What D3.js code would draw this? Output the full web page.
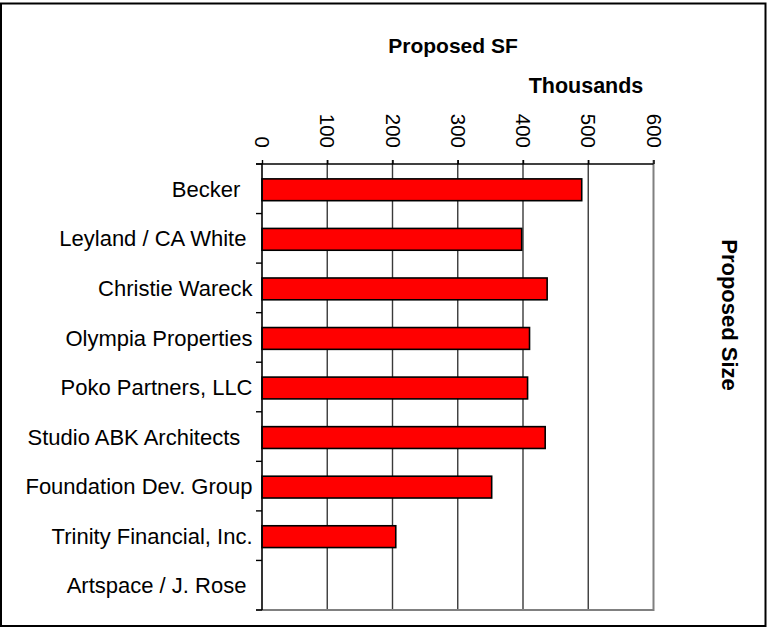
<!DOCTYPE html>
<html>
<head>
<meta charset="utf-8">
<script src="https://cdn.jsdelivr.net/npm/d3@7"></script>
<style>
  body { margin: 0; background: #fff; }
  text { font-family: "Liberation Sans", Arial, sans-serif; white-space: pre; }
</style>
</head>
<body>
<div id="chart"></div>
<script>
var width  = 767,
    height = 628;

// categories (trailing spaces as in the source labels)
var categories = [
    "Becker  ",
    "Leyland / CA White ",
    "Christie Wareck",
    "Olympia Properties",
    "Poko Partners, LLC",
    "Studio ABK Architects  ",
    "Foundation Dev. Group",
    "Trinity Financial, Inc.",
    "Artspace / J. Rose "
];
// proposed SF, thousands
var values = [490, 398, 437, 410, 407, 434, 352, 205, 0];
var tickValues = [0, 100, 200, 300, 400, 500, 600];

var plot = { left: 262, right: 654, top: 164, bottom: 610 };

var x = d3.scaleLinear()
    .domain([0, 600])
    .range([plot.left, plot.right - 0.5]);

var y = d3.scaleBand()
    .domain(categories)
    .range([plot.top, plot.bottom])
    .paddingInner(0.56)
    .paddingOuter(0.28);

var svg = d3.select("#chart").append("svg")
    .attr("width", width)
    .attr("height", height);

// outer frame
svg.append("rect")
    .attr("x", 1).attr("y", 3.5)
    .attr("width", 764.5).attr("height", 622.5)
    .attr("fill", "none")
    .attr("stroke", "#000")
    .attr("stroke-width", 2);

// gridlines
svg.append("g").selectAll("line")
    .data(tickValues.slice(1, -1))
    .enter().append("line")
    .attr("x1", function(d) { return x(d); })
    .attr("x2", function(d) { return x(d); })
    .attr("y1", plot.top - 4)
    .attr("y2", plot.bottom)
    .attr("stroke", "#3a3a3a")
    .attr("stroke-width", 1.4);

// right + bottom plot border (grey)
svg.append("path")
    .attr("d", "M" + x(600) + "," + (plot.top - 4) + "V" + plot.bottom + "H" + (plot.left - 6))
    .attr("fill", "none")
    .attr("stroke", "#808080")
    .attr("stroke-width", 2);

// bars
svg.append("g").selectAll("rect")
    .data(values)
    .enter().append("rect")
    .filter(function(d) { return d > 0; })
    .attr("x", x(0))
    .attr("y", function(d, i) { return y(categories[i]) + 1; })
    .attr("width", function(d) { return x(d) - x(0); })
    .attr("height", y.bandwidth())
    .attr("fill", "#ff0000")
    .attr("stroke", "#000")
    .attr("stroke-width", 1.6);

// top axis
var axisTop = d3.axisTop(x)
    .tickValues(tickValues)
    .tickSize(4)
    .tickFormat(d3.format("d"));

var gx = svg.append("g")
    .attr("transform", "translate(0," + plot.top + ")")
    .call(axisTop);
gx.select(".domain").attr("d", "M" + (plot.left - 6) + ",0H" + x(600))
    .attr("stroke", "#000").attr("stroke-width", 1.5);
gx.selectAll(".tick line").attr("stroke", "#000").attr("stroke-width", 1.4);
gx.selectAll(".tick text")
    .attr("transform", "translate(0,-16) rotate(90)")
    .attr("x", 0)
    .attr("y", 0)
    .attr("dy", "0.36em")
    .attr("text-anchor", "end")
    .style("font-size", "20.5px")
    .attr("fill", "#000");

// left axis: line + ticks on band boundaries
var bounds = categories.map(function(c) { return y(c) - y.step() * y.paddingInner() / 2; });
bounds.push(plot.bottom);
var gy = svg.append("g");
gy.append("line")
    .attr("x1", plot.left).attr("x2", plot.left)
    .attr("y1", plot.top).attr("y2", plot.bottom)
    .attr("stroke", "#000").attr("stroke-width", 1.6);
gy.selectAll("line.tk")
    .data(bounds)
    .enter().append("line")
    .attr("class", "tk")
    .attr("x1", plot.left - 6).attr("x2", plot.left)
    .attr("y1", function(d) { return d; })
    .attr("y2", function(d) { return d; })
    .attr("stroke", "#000").attr("stroke-width", 1.4);

gy.selectAll("text")
    .data(categories)
    .enter().append("text")
    .attr("x", plot.left - 9.5)
    .attr("y", function(d) { return y(d) + y.bandwidth() / 2; })
    .attr("dy", "0.37em")
    .attr("text-anchor", "end")
    .style("font-size", "22px")
    .text(function(d) { return d; });

// titles
svg.append("text")
    .attr("x", 453).attr("y", 53)
    .attr("text-anchor", "middle")
    .style("font-size", "21px").style("font-weight", "bold")
    .text("Proposed SF");

svg.append("text")
    .attr("x", 586).attr("y", 93)
    .attr("text-anchor", "middle")
    .style("font-size", "21.5px").style("font-weight", "bold")
    .text("Thousands");

svg.append("text")
    .attr("transform", "translate(722,315) rotate(90)")
    .attr("text-anchor", "middle")
    .style("font-size", "22px").style("font-weight", "bold")
    .text("Proposed Size");
</script>
</body>
</html>
